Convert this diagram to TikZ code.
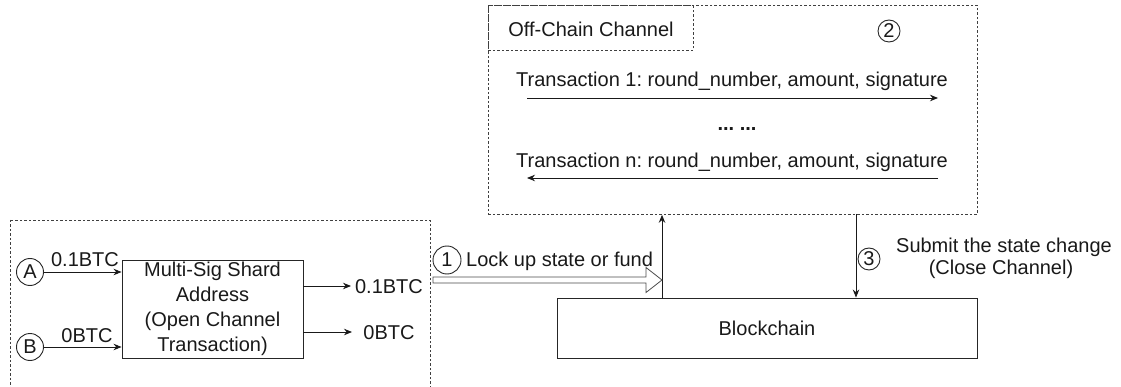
\documentclass[tikz,border=0pt]{standalone}
\usepackage{fontspec}
\setmainfont{Liberation Sans}
\usetikzlibrary{arrows.meta,calc}
\frenchspacing
\begin{document}
\begin{tikzpicture}[x=1pt,y=-1pt,
  font=\fontsize{20}{25}\selectfont,
  every node/.style={inner sep=0pt, text=black!90},
  box/.style={draw=black!85, line width=0.9pt},
  dashbox/.style={draw=black!75, line width=0.8pt, dash pattern=on 2.5pt off 2pt},
  circ/.style={circle, draw=black!85, line width=0.9pt, minimum size=#1},
  circ/.default=27pt,
  arr/.style={draw=black!90, line width=0.9pt, -{Stealth[length=8pt,width=6.5pt]}},
]
\useasboundingbox (0,0) rectangle (1121,387);

% ---- opening transaction group ----
\draw[dashbox] (10,220) rectangle (430,400);
\node[circ] (A) at (30,272) {A};
\node[circ] (B) at (30,347) {B};
\node[box, minimum width=181pt, minimum height=98pt, align=center] (ms) at (212.5,309)
  {Multi-Sig Shard\\Address\\(Open Channel\\Transaction)};
\draw[arr] (A) -- (A -| ms.west);
\draw[arr] (B) -- (B -| ms.west);
\node[anchor=base] (lA) at (85,266.5) {0.1BTC};
\node[anchor=base] (lB) at (87,342) {0BTC};

\node[anchor=base] (o1) at (389,293.5) {0.1BTC};
\node[anchor=base] (o2) at (389,339.5) {0BTC};
\coordinate (e1) at (351,286);
\coordinate (e2) at (352,332);
\draw[arr] (ms.east |- e1) -- (e1);
\draw[arr] (ms.east |- e2) -- (e2);

% ---- blockchain ----
\node[box, minimum width=420pt, minimum height=60pt] (bc) at (767,328) {};
\node[anchor=base] (bcl) at (767,335) {Blockchain};

% ---- off-chain channel ----
\node[dashbox, minimum width=489pt, minimum height=209pt, anchor=north west] (oc) at (488,5) {};
\node[dashbox, minimum width=205pt, minimum height=45pt, anchor=north west] (tab) at (488,5) {};
\node[anchor=base] (tabl) at (591,37) {Off-Chain Channel};
\node[circ=22pt] (c2) at (889,31) {2};
\node[anchor=base] (t1) at (732,86.5) {Transaction 1: round\_number, amount, signature};
\node[anchor=base, font=\fontsize{20}{25}\selectfont\bfseries] (dots) at (737,131) {... ...};
\node[anchor=base] (tn) at (732,168) {Transaction n: round\_number, amount, signature};
\coordinate (t1a) at (527,98);
\coordinate (t1b) at (938,98);
\coordinate (tna) at (938,178);
\coordinate (tnb) at (527,178);
\draw[arr] (t1a) -- (t1b);
\draw[arr] (tna) -- (tnb);

% ---- step 1: lock up ----
\coordinate (up) at (662,298);
\draw[arr] (up) -- (up |- oc.south);
\coordinate (lk0) at (433,280);
\coordinate (lk1) at (up |- lk0);
\draw[draw=black!70, line width=0.8pt, fill=white, line join=miter]
  ($(lk0)+(0,-3)$) -- ($(lk1)+(-16,-3)$) -- ($(lk1)+(-16,-12.5)$) -- (lk1)
  -- ($(lk1)+(-16,12.5)$) -- ($(lk1)+(-16,3)$) -- ($(lk0)+(0,3)$) -- cycle;
\node[circ=28pt] (c1) at (447,260) {1};
\node[anchor=base west] (lkl) at (466,267) {Lock up state or fund};

% ---- step 3: close ----
\coordinate (dn) at (856,214);
\draw[arr] (dn) -- (dn |- bc.north);
\node[circ=22pt] (c3) at (869,259) {3};
\node[anchor=base] (s1) at (1004,253) {Submit the state change};
\node[anchor=base] (s2) at (1001,275) {(Close Channel)};
\end{tikzpicture}
\end{document}
